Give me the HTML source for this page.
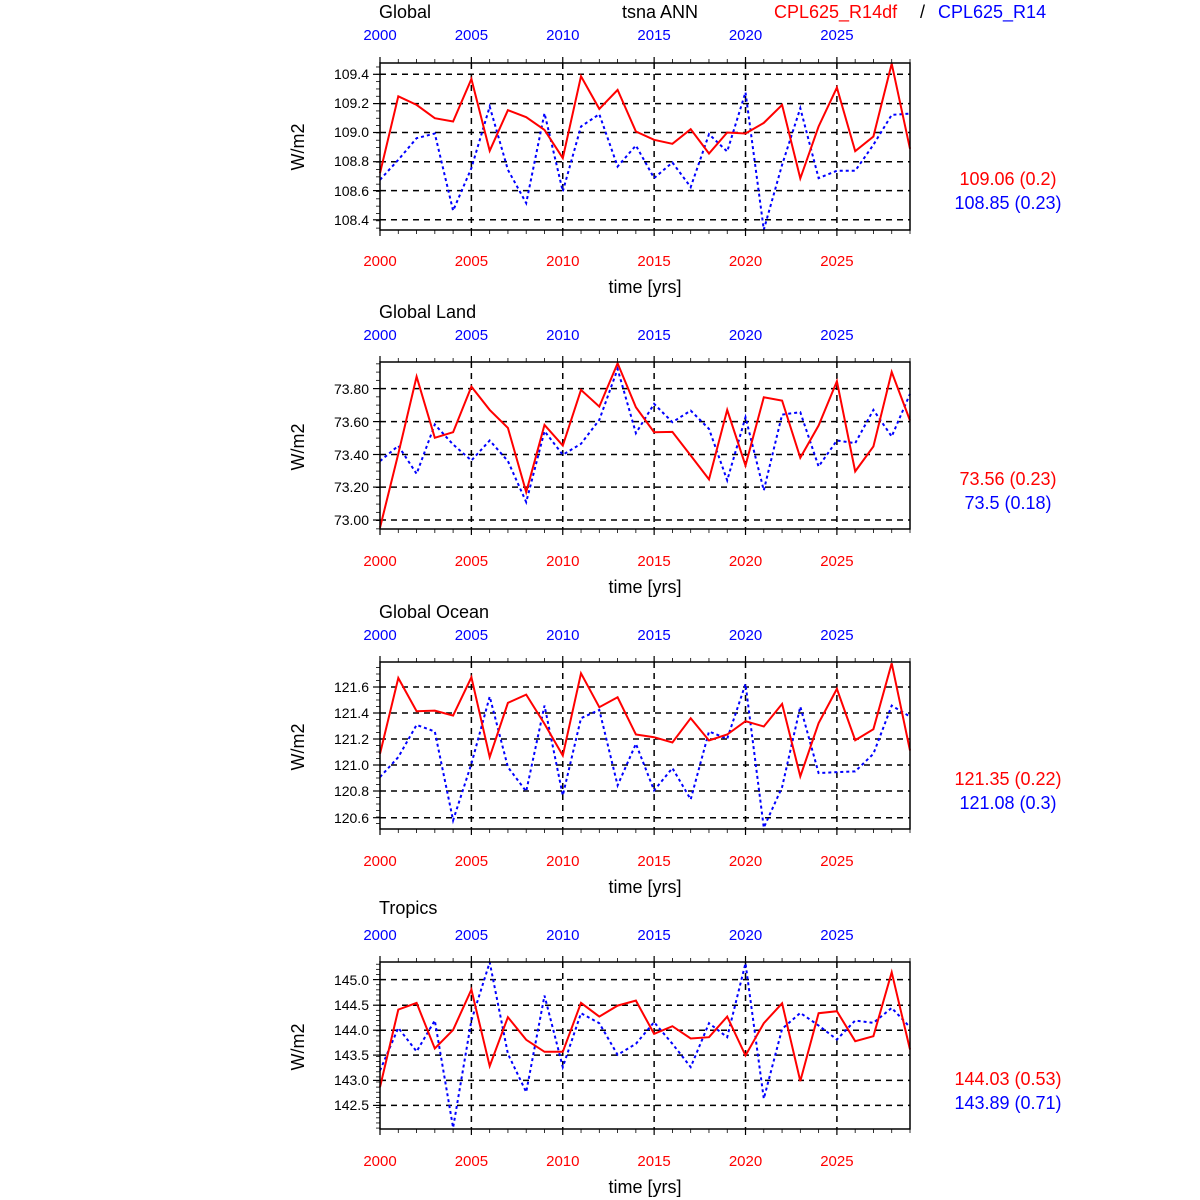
<!DOCTYPE html>
<html><head><meta charset="utf-8"><style>
html,body{margin:0;padding:0;background:#fff;}
svg{display:block;font-family:"Liberation Sans",Arial,sans-serif;}
</style></head><body>
<svg id="s" width="1200" height="1200" viewBox="0 0 1200 1200" xmlns="http://www.w3.org/2000/svg">
<g font-size="18">
<text x="379" y="18">Global</text>
<text x="660" y="18" text-anchor="middle">tsna ANN</text>
<text x="774" y="18" fill="#f00">CPL625_R14df</text>
<text x="920" y="18">/</text>
<text x="938" y="18" fill="#00f">CPL625_R14</text>
<text x="379" y="318">Global Land</text>
<text x="379" y="618">Global Ocean</text>
<text x="379" y="914">Tropics</text>
</g>
<g font-size="15" fill="#00f" text-anchor="middle">
<text x="380" y="40">2000</text><text x="471.4" y="40">2005</text><text x="562.8" y="40">2010</text><text x="654.1" y="40">2015</text><text x="745.5" y="40">2020</text><text x="836.9" y="40">2025</text>
<text x="380" y="340">2000</text><text x="471.4" y="340">2005</text><text x="562.8" y="340">2010</text><text x="654.1" y="340">2015</text><text x="745.5" y="340">2020</text><text x="836.9" y="340">2025</text>
<text x="380" y="640">2000</text><text x="471.4" y="640">2005</text><text x="562.8" y="640">2010</text><text x="654.1" y="640">2015</text><text x="745.5" y="640">2020</text><text x="836.9" y="640">2025</text>
<text x="380" y="940">2000</text><text x="471.4" y="940">2005</text><text x="562.8" y="940">2010</text><text x="654.1" y="940">2015</text><text x="745.5" y="940">2020</text><text x="836.9" y="940">2025</text>
</g>
<g font-size="15" fill="#f00" text-anchor="middle">
<text x="380" y="266">2000</text><text x="471.4" y="266">2005</text><text x="562.8" y="266">2010</text><text x="654.1" y="266">2015</text><text x="745.5" y="266">2020</text><text x="836.9" y="266">2025</text>
<text x="380" y="566">2000</text><text x="471.4" y="566">2005</text><text x="562.8" y="566">2010</text><text x="654.1" y="566">2015</text><text x="745.5" y="566">2020</text><text x="836.9" y="566">2025</text>
<text x="380" y="866">2000</text><text x="471.4" y="866">2005</text><text x="562.8" y="866">2010</text><text x="654.1" y="866">2015</text><text x="745.5" y="866">2020</text><text x="836.9" y="866">2025</text>
<text x="380" y="1166">2000</text><text x="471.4" y="1166">2005</text><text x="562.8" y="1166">2010</text><text x="654.1" y="1166">2015</text><text x="745.5" y="1166">2020</text><text x="836.9" y="1166">2025</text>
</g>
<g font-size="18" text-anchor="middle">
<text x="645" y="293">time [yrs]</text><text x="645" y="593">time [yrs]</text><text x="645" y="893">time [yrs]</text><text x="645" y="1193">time [yrs]</text>
<text transform="translate(304,147) rotate(-90)">W/m2</text>
<text transform="translate(304,447) rotate(-90)">W/m2</text>
<text transform="translate(304,747) rotate(-90)">W/m2</text>
<text transform="translate(304,1047) rotate(-90)">W/m2</text>
</g>
<g font-size="14" text-anchor="end">
<text x="369" y="79">109.4</text><text x="369" y="108">109.2</text><text x="369" y="137">109.0</text><text x="369" y="166">108.8</text><text x="369" y="196">108.6</text><text x="369" y="225">108.4</text>
<text x="369" y="394">73.80</text><text x="369" y="427">73.60</text><text x="369" y="460">73.40</text><text x="369" y="492">73.20</text><text x="369" y="525">73.00</text>
<text x="369" y="692">121.6</text><text x="369" y="718">121.4</text><text x="369" y="744">121.2</text><text x="369" y="770">121.0</text><text x="369" y="796">120.8</text><text x="369" y="823">120.6</text>
<text x="369" y="985">145.0</text><text x="369" y="1010">144.5</text><text x="369" y="1035">144.0</text><text x="369" y="1060">143.5</text><text x="369" y="1085">143.0</text><text x="369" y="1110">142.5</text>
</g>
<g font-size="18" text-anchor="middle">
<text x="1008" y="185" fill="#f00">109.06 (0.2)</text><text x="1008" y="209" fill="#00f">108.85 (0.23)</text>
<text x="1008" y="485" fill="#f00">73.56 (0.23)</text><text x="1008" y="509" fill="#00f">73.5 (0.18)</text>
<text x="1008" y="785" fill="#f00">121.35 (0.22)</text><text x="1008" y="809" fill="#00f">121.08 (0.3)</text>
<text x="1008" y="1085" fill="#f00">144.03 (0.53)</text><text x="1008" y="1109" fill="#00f">143.89 (0.71)</text>
</g>
<g id="g"></g>
</svg>
<script>
var P=[
{t:63,grid:[74.3,103.6,132.5,161.7,190.6,219.8],minor:4,
r:[355,124,150,190,200,72,288,166,187,225,310,64,162,105,230,255,267,223,296,233,236,204,150,371,215,98,289,245,26,282],
b:[375,315,250,236,468,340,155,345,445,175,410,215,178,335,272,370,323,397,238,290,112,525,330,160,370,348,348,270,180,176]},
{t:362,grid:[388.6,421.6,454.5,487.1,520.0],minor:4,
r:[522,300,68,252,235,98,168,222,415,213,275,108,158,28,160,235,234,305,377,168,335,130,140,312,215,82,353,278,54,200],
b:[322,276,360,212,272,320,260,322,445,232,303,270,198,45,238,150,205,170,225,380,190,410,182,175,338,260,268,168,248,120]},
{t:662,grid:[687,713,739,765,791,817.7],minor:4,
r:[300,72,172,170,185,70,310,147,122,210,305,58,160,130,242,250,266,193,260,242,202,218,150,368,208,105,259,226,28,290],
b:[370,310,213,233,500,330,128,340,413,155,425,193,168,395,270,410,343,437,233,255,90,522,400,158,358,355,353,300,155,188]},
{t:962,grid:[979.6,1005.2,1030.2,1055.1,1080.4,1105.4],minor:5,
r:[400,167,147,284,228,107,337,190,258,294,294,147,188,155,140,240,217,254,250,188,305,208,148,382,178,172,262,247,55,287],
b:[350,222,293,200,522,200,25,300,415,125,340,178,208,303,270,205,270,340,208,250,28,435,225,177,215,257,200,207,162,220]}];
var L=380,R=910,H=167,s='';
function X(i){return L+i*(R-L)/29}
P.forEach(function(p){
 var T=p.t,B=T+H;
 function Y(z){return T+(z-24)*H/502}
 var sp=p.grid[1]-p.grid[0];
 p.grid.forEach(function(g){s+='<line x1="'+L+'" x2="'+R+'" y1="'+g+'" y2="'+g+'" stroke="#000" stroke-width="1.5" stroke-dasharray="6,5"/>';
  s+='<line x1="'+(L-7)+'" x2="'+L+'" y1="'+g+'" y2="'+g+'" stroke="#000" stroke-width="1.2"/>';});
 for(var y=p.grid[0]-sp;y<B+1;y+=sp/p.minor){if(y<T-0.5)continue;s+='<line x1="'+(L-4)+'" x2="'+L+'" y1="'+y+'" y2="'+y+'" stroke="#000" stroke-width="0.8"/>';}
 for(var i=0;i<30;i++){var x=X(i),m=(i%5==0),l=m?6:4;
  if(m&&i>0){s+='<line x1="'+x+'" x2="'+x+'" y1="'+T+'" y2="'+B+'" stroke="#000" stroke-width="1.5" stroke-dasharray="6,5"/>';}
  s+='<line x1="'+x+'" x2="'+x+'" y1="'+B+'" y2="'+(B+l)+'" stroke="#000" stroke-width="'+(m?1.2:0.8)+'"/>';
  s+='<line x1="'+x+'" x2="'+x+'" y1="'+T+'" y2="'+(T-l)+'" stroke="#000" stroke-width="'+(m?1.2:0.8)+'"/>';}
 function pl(a,c,d){var pts=a.map(function(z,i){return X(i).toFixed(1)+','+Y(z).toFixed(1)}).join(' ');
  s+='<polyline points="'+pts+'" fill="none" stroke="'+c+'" stroke-width="2" '+(d?'stroke-dasharray="3,3"':'')+' stroke-linejoin="miter"/>';}
 pl(p.b,'#00f',1);pl(p.r,'#f00',0);
 s+='<rect x="'+L+'" y="'+T+'" width="'+(R-L)+'" height="'+H+'" fill="none" stroke="#000" stroke-width="1.5"/>';
});
document.getElementById('g').innerHTML=s;
</script>
</body></html>
